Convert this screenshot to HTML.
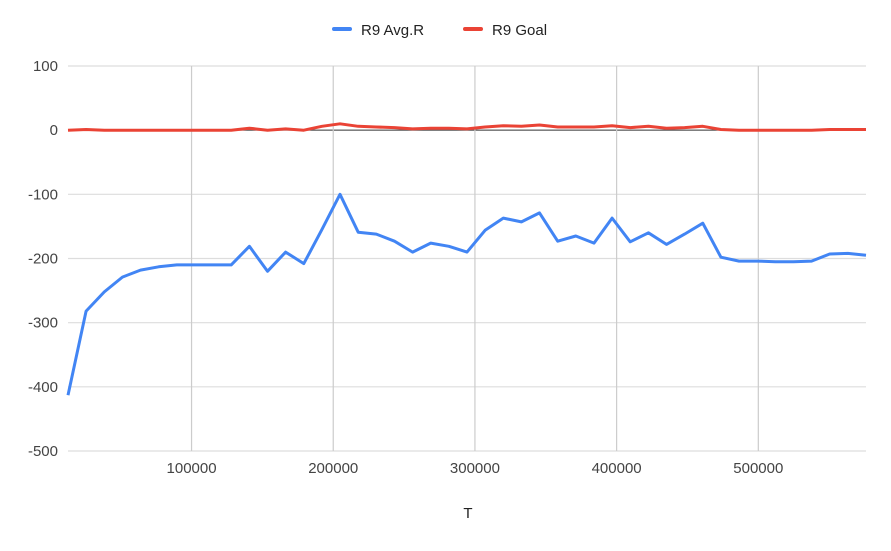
<!DOCTYPE html>
<html><head><meta charset="utf-8"><style>
body{margin:0;background:#fff;font-family:"Liberation Sans",Arial,sans-serif}
text{font-family:"Liberation Sans",Arial,sans-serif}
</style></head><body>
<svg id="chart" width="891" height="546" xmlns="http://www.w3.org/2000/svg">
<g id="grid"></g>
<g id="axes"></g>
<g id="series"></g>
<g>
 <g><rect x="332" y="27" width="20" height="4" rx="2" fill="#4285f4"/><text x="361" y="35" font-size="15" fill="#222">R9 Avg.R</text></g>
 <g><rect x="463" y="27" width="20" height="4" rx="2" fill="#ea4335"/><text x="492" y="35" font-size="15" fill="#222">R9 Goal</text></g>
</g>
<text x="468" y="518" font-size="15" text-anchor="middle" fill="#222">T</text>
</svg>
<script>
const xStep = 12800;
const avgR = [-413,-282,-252,-229,-218,-213,-210,-210,-210,-210,-181,-220,-190,-208,-155,-100,-159,-162,-173,-190,-176,-181,-190,-156,-137,-143,-129,-173,-165,-176,-137,-174,-160,-178,-162,-145,-198,-204,-204,-205,-205,-204,-193,-192,-195];
const goal = [0,1,0,0,0,0,0,0,0,0,3,0,2,0,6,10,6,5,4,2,3,3,2,5,7,6,8,5,5,5,7,4,6,3,4,6,1,0,0,0,0,0,1,1,1];
const yTicks = [100,0,-100,-200,-300,-400,-500];
const xTicks = [100000,200000,300000,400000,500000];
const L=68,R=866,T=66,B=451,xMin=12800,xMax=576000,yMin=-500,yMax=100;
const xs=v=>L+(v-xMin)/(xMax-xMin)*(R-L);
const ys=v=>B-(v-yMin)/(yMax-yMin)*(B-T);
const NS='http://www.w3.org/2000/svg';
function mk(t,a,p){const e=document.createElementNS(NS,t);for(const k in a)e.setAttribute(k,a[k]);p.appendChild(e);return e;}
const grid=document.getElementById('grid'),axes=document.getElementById('axes'),ser=document.getElementById('series');
yTicks.forEach(v=>{
 const l=mk('line',{x1:L,x2:R,y1:ys(v),y2:ys(v),stroke:v===0?'#333':'#ddd','stroke-width':v===0?1:1.2},grid);
 
 
 const t=mk('text',{x:58,y:ys(v)+5,'font-size':15,'text-anchor':'end',fill:'#444'},axes);
 t.textContent=v;
 
 
});
xTicks.forEach(v=>{
 const l=mk('line',{x1:xs(v),x2:xs(v),y1:T,y2:B,stroke:'#ccc','stroke-width':1.2},grid);
 
 
 const t=mk('text',{x:xs(v),y:473,'font-size':15,'text-anchor':'middle',fill:'#444'},axes);
 t.textContent=v;
 
 
});
function line(arr,color,name){
 const d=arr.map((v,i)=>(i?'L':'M')+xs(xStep*(i+1)).toFixed(1)+' '+ys(v).toFixed(1)).join(' ');
 const p=mk('path',{d:d,fill:'none',stroke:color,'stroke-width':3,'stroke-linejoin':'round'},ser);
 
 
}
line(goal,'#ea4335','goal-line');
line(avgR,'#4285f4','avg-r-line');
</script>
</body></html>
